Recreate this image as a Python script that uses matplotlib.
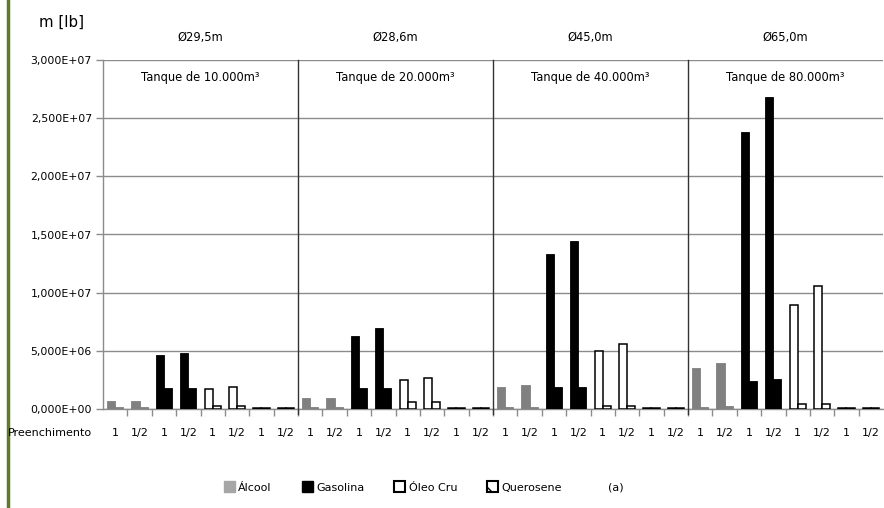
import matplotlib
matplotlib.use("Agg")
import matplotlib.pyplot as plt
from matplotlib.patches import Patch
from matplotlib.lines import Line2D

# ---- data (values in lb) ----
tanks = ["Tanque de 10.000m³", "Tanque de 20.000m³", "Tanque de 40.000m³", "Tanque de 80.000m³"]
diameters = ["Ø29,5m", "Ø28,6m", "Ø45,0m", "Ø65,0m"]
fluids = ["Álcool", "Gasolina", "Óleo Cru", "Querosene"]
fills = ["1", "1/2"]
yticks = [0, 5e6, 1e7, 1.5e7, 2e7, 2.5e7, 3e7]
ytick_labels = ["0,000E+00", "5,000E+06", "1,000E+07", "1,500E+07",
                "2,000E+07", "2,500E+07", "3,000E+07"]

# per tank: [fill 1, fill 1/2] for each tank in order
alcool_tall = [0.69e6, 0.69e6, 0.97e6, 0.97e6, 1.92e6, 2.10e6, 3.50e6, 3.99e6]
alcool_short = [0.20e6, 0.20e6, 0.17e6, 0.20e6, 0.20e6, 0.20e6, 0.17e6, 0.26e6]
gasolina_tall = [4.66e6, 4.85e6, 6.29e6, 6.92e6, 13.3e6, 14.4e6, 23.8e6, 26.8e6]
gasolina_short = [1.78e6, 1.78e6, 1.78e6, 1.78e6, 1.92e6, 1.92e6, 2.41e6, 2.56e6]
oleo_tall = [1.75e6, 1.90e6, 2.53e6, 2.70e6, 4.95e6, 5.58e6, 8.97e6, 10.6e6]
oleo_short = [0.28e6, 0.28e6, 0.63e6, 0.63e6, 0.26e6, 0.26e6, 0.43e6, 0.43e6]
querosene_tall = [0.12e6, 0.12e6, 0.12e6, 0.12e6, 0.12e6, 0.12e6, 0.12e6, 0.12e6]
querosene_short = [0.12e6, 0.12e6, 0.12e6, 0.12e6, 0.12e6, 0.12e6, 0.12e6, 0.12e6]

series = [
    (alcool_tall, alcool_short, dict(facecolor="#808080", edgecolor="#808080", linewidth=0.6)),
    (gasolina_tall, gasolina_short, dict(facecolor="black", edgecolor="black", linewidth=0.6)),
    (oleo_tall, oleo_short, dict(facecolor="white", edgecolor="black", linewidth=1.1)),
    (querosene_tall, querosene_short, dict(facecolor="white", edgecolor="black", linewidth=1.1, hatch="\\\\\\")),
]

FONT = "DejaVu Sans"
plt.rcParams["font.family"] = [FONT]

fig = plt.figure(figsize=(8.84, 5.08), dpi=100)
ax = fig.add_axes([103 / 884, 1 - 409 / 508, 780 / 884, 349 / 508])

ncat = len(tanks) * len(fluids) * len(fills)
w = 1 / 3
xs_labels = []
for t in range(len(tanks)):
    for f, (tall, short, style) in enumerate(series):
        for k in range(len(fills)):
            x = t * 8 + f * 2 + k
            idx = t * 2 + k
            ax.bar(x - w / 2, tall[idx], width=w, **style, zorder=3)
            ax.bar(x + w / 2, short[idx], width=w, **style, zorder=3)
            xs_labels.append(fills[k])

ax.set_xlim(-0.5, ncat - 0.5)
ax.set_ylim(0, 3e7)
ax.set_yticks(yticks)
ax.set_yticklabels(ytick_labels, fontsize=7.8)
ax.yaxis.grid(True, color="#8c8c8c", linewidth=1.0, zorder=0)
ax.set_axisbelow(True)
ax.tick_params(axis="y", length=5, color="#8c8c8c", pad=3, width=1)

# x ticks at category boundaries (minor) and labels at centers
ax.set_xticks(range(ncat))
ax.set_xticklabels(xs_labels, fontsize=8)
ax.tick_params(axis="x", length=0, pad=14)
ax.set_xticks([i - 0.5 for i in range(1, ncat)], minor=True)
ax.tick_params(axis="x", which="minor", length=5, color="#8c8c8c", width=1)

for sp in ["top", "right"]:
    ax.spines[sp].set_visible(False)
ax.spines["left"].set_color("#8c8c8c")
ax.spines["bottom"].set_color("#8c8c8c")
ax.spines["left"].set_linewidth(1)
ax.spines["bottom"].set_linewidth(1)

# group separators
for t in range(1, len(tanks)):
    ax.axvline(t * 8 - 0.5, color="#333333", linewidth=1.0, zorder=4, ymin=-0.015, clip_on=False)

# texts
for t in range(len(tanks)):
    cx = t * 8 + 3.5
    ax.text(cx, 2.85e7, tanks[t], ha="center", va="center", fontsize=8.3)
    ax.text(cx, 3.19e7, diameters[t], ha="center", va="center", fontsize=8.3)

fig.text(62 / 884, 1 - 22 / 508, "m [lb]", ha="center", va="center", fontsize=10.8)
fig.text(50 / 884, 1 - 433 / 508, "Preenchimento", ha="center", va="center", fontsize=8)

# left green border
fig.add_artist(Line2D([8 / 884, 8 / 884], [0, 1], color="#5f7a2c", linewidth=2.5))

# legend
handles = [
    Patch(facecolor="#a6a6a6", edgecolor="#a6a6a6"),
    Patch(facecolor="black", edgecolor="black"),
    Patch(facecolor="white", edgecolor="black", linewidth=1.5),
    Patch(facecolor="white", edgecolor="black", linewidth=1.5, hatch="\\\\"),
]
leg = fig.legend(handles, fluids, loc="center", bbox_to_anchor=(393 / 884, 1 - 487 / 508),
                 ncol=4, frameon=False, fontsize=8, handlelength=1.0, handleheight=1.1,
                 handletextpad=0.3, columnspacing=2.7)
fig.text(616 / 884, 1 - 487 / 508, "(a)", ha="center", va="center", fontsize=8)

fig.savefig("out.png", dpi=100)
